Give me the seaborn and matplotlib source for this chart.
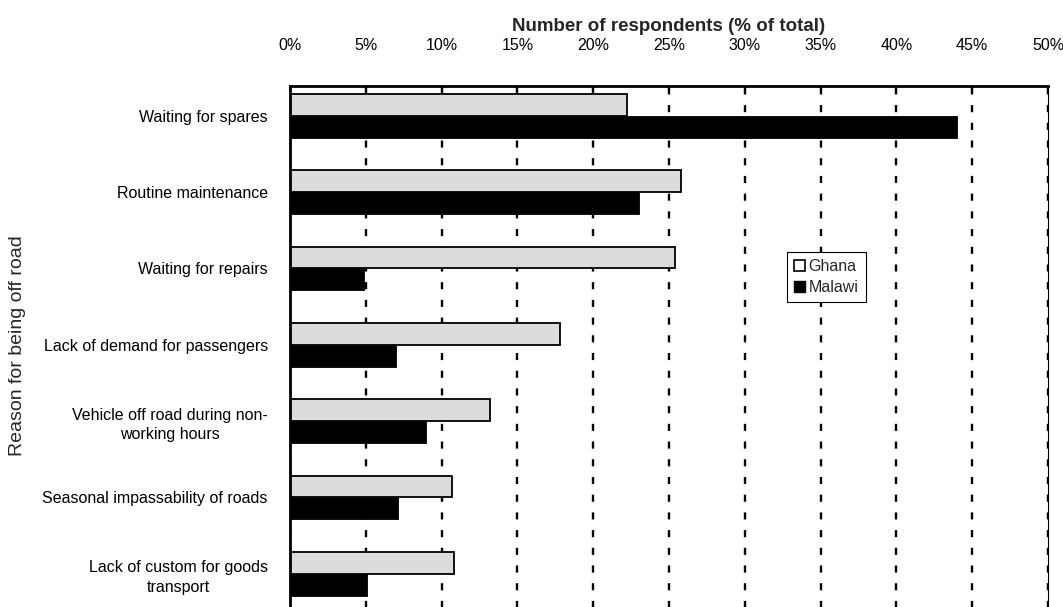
import matplotlib
matplotlib.use("Agg")
import matplotlib.pyplot as plt
from matplotlib.patches import Patch
from matplotlib.ticker import MultipleLocator, FuncFormatter
import pandas as pd
import seaborn as sns

# Reasons vehicles are off the road, share of respondents (%)
reasons = [
    "Waiting for spares",
    "Routine maintenance",
    "Waiting for repairs",
    "Lack of demand for passengers",
    "Vehicle off road during non-\nworking hours",
    "Seasonal impassability of roads",
    "Lack of custom for goods\ntransport",
]
countries = ["Ghana", "Malawi"]
ghana = [22.2, 25.8, 25.4, 17.8, 13.2, 10.7, 10.8]
malawi = [44.0, 23.0, 4.9, 7.0, 9.0, 7.1, 5.1]

df = pd.DataFrame({
    "reason": reasons * 2,
    "country": ["Ghana"] * len(reasons) + ["Malawi"] * len(reasons),
    "share": ghana + malawi,
})

sns.set_style("white")
plt.rcParams["font.family"] = ["Liberation Sans", "DejaVu Sans"]

fig = plt.figure(figsize=(10.63, 6.07), dpi=100)
ax = fig.add_axes([0.2728, -0.0082, 0.7131, 0.8665])

colors = {"Ghana": "#dcdcdc", "Malawi": "#000000"}
sns.barplot(data=df, x="share", y="reason", hue="country", order=reasons,
            hue_order=countries, orient="h", palette=colors, saturation=1,
            width=0.575, legend=False, ax=ax)

for bar in ax.containers[0]:
    bar.set_edgecolor("black")
    bar.set_linewidth(1.3)
for bar in ax.containers[1]:
    bar.set_edgecolor("black")
    bar.set_linewidth(0.6)

ax.set_xlim(0, 50)
ax.set_ylim(6.5, -0.39)
ax.xaxis.set_major_locator(MultipleLocator(5))
ax.xaxis.set_major_formatter(FuncFormatter(lambda v, _: f"{v:.0f}%"))
ax.xaxis.tick_top()
ax.xaxis.set_label_position("top")
ax.tick_params(axis="x", direction="in", length=4, width=1.5, pad=24,
               labelsize=11.5, colors="black", top=True, bottom=False)
ax.tick_params(axis="y", length=0, pad=16, labelsize=11.5, colors="black")
for lbl in ax.get_yticklabels():
    lbl.set_multialignment("center")
    lbl.set_linespacing(1.35)

ax.set_xlabel("Number of respondents (% of total)", fontsize=13.5,
              fontweight="bold", labelpad=5)
ax.set_ylabel("")

ax.set_axisbelow(True)
ax.grid(axis="x", color="black", linestyle=(0, (3, 4.5)), linewidth=1.7)
ax.grid(axis="y", visible=False)

for side in ["top", "left"]:
    ax.spines[side].set_visible(True)
    ax.spines[side].set_color("black")
    ax.spines[side].set_linewidth(2)
ax.spines["right"].set_color("black")
ax.spines["right"].set_linewidth(0.8)
ax.spines["bottom"].set_visible(False)

fig.text(18 / 1063, 1 - 346 / 607, "Reason for being off road",
         rotation=90, ha="center", va="center", fontsize=14)

handles = [Patch(facecolor="white", edgecolor="black", linewidth=1.2),
           Patch(facecolor="black", edgecolor="black")]
leg = ax.legend(handles, countries, loc="upper left",
                bbox_to_anchor=(0.6557, 0.6844), fontsize=11.5,
                handlelength=0.7, handleheight=0.7, handletextpad=0.2,
                labelspacing=0.35, borderpad=0.45, borderaxespad=0,
                fancybox=False, framealpha=1, edgecolor="black")
leg.get_frame().set_linewidth(0.8)

fig.savefig("out.png", dpi=100)
